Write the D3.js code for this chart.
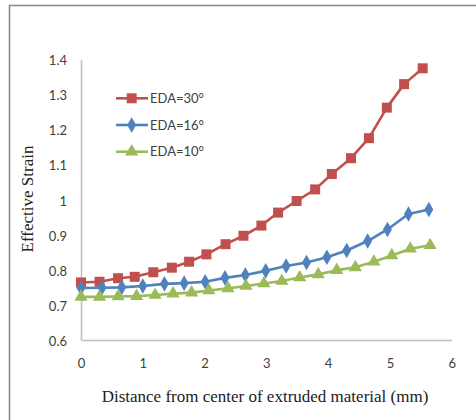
<!DOCTYPE html>
<html>
<head>
<meta charset="utf-8">
<script src="https://cdn.jsdelivr.net/npm/d3@7"></script>
<style>
  html, body { margin: 0; padding: 0; background: #fff; }
  svg { display: block; }
</style>
</head>
<body>
<svg id="chart" width="476" height="420"></svg>
<script>
// Effective strain across the extruded section, one series per die angle (EDA)
const seriesNames = ["EDA=30°", "EDA=16°", "EDA=10°"];
const seriesColors = ["#C0504D", "#4F81BD", "#9BBB59"];
const seriesSymbols = ["square", "diamond", "triangle"];

const xEda30 = [0, 0.30, 0.60, 0.87, 1.17, 1.47, 1.75, 2.03, 2.34, 2.63, 2.92, 3.19, 3.49, 3.79, 4.06, 4.37, 4.66, 4.95, 5.23, 5.53];
const yEda30 = [0.764, 0.766, 0.776, 0.780, 0.793, 0.806, 0.823, 0.844, 0.873, 0.897, 0.926, 0.963, 0.996, 1.029, 1.073, 1.118, 1.175, 1.262, 1.329, 1.374];

const xEda16 = [0, 0.34, 0.66, 1.00, 1.35, 1.67, 2.01, 2.33, 2.66, 2.99, 3.32, 3.65, 3.98, 4.30, 4.64, 4.96, 5.30, 5.63];
const yEda16 = [0.748, 0.749, 0.750, 0.754, 0.760, 0.762, 0.766, 0.777, 0.785, 0.797, 0.811, 0.821, 0.836, 0.855, 0.882, 0.915, 0.959, 0.972];

const xEda10 = [0, 0.30, 0.60, 0.90, 1.20, 1.49, 1.79, 2.07, 2.38, 2.67, 2.96, 3.25, 3.54, 3.84, 4.14, 4.44, 4.74, 5.03, 5.33, 5.65];
const yEda10 = [0.723, 0.723, 0.724, 0.725, 0.728, 0.732, 0.735, 0.741, 0.747, 0.754, 0.761, 0.768, 0.778, 0.787, 0.799, 0.807, 0.823, 0.841, 0.860, 0.870];

const xTicks = [0, 1, 2, 3, 4, 5, 6];
const yTicks = [0.6, 0.7, 0.8, 0.9, 1, 1.1, 1.2, 1.3, 1.4];
const xTitle = "Distance from center of extruded material (mm)";
const yTitle = "Effective Strain";

const series = [
  { name: seriesNames[0], color: seriesColors[0], symbol: seriesSymbols[0], xs: xEda30, ys: yEda30 },
  { name: seriesNames[1], color: seriesColors[1], symbol: seriesSymbols[1], xs: xEda16, ys: yEda16 },
  { name: seriesNames[2], color: seriesColors[2], symbol: seriesSymbols[2], xs: xEda10, ys: yEda10 }
];

const svg = d3.select("#chart");

// outer chart frame
svg.append("rect")
  .attr("x", 9.5).attr("y", 5.5)
  .attr("width", 480).attr("height", 430)
  .attr("fill", "none")
  .attr("stroke", "#8c8c8c")
  .attr("stroke-width", 1.6);

const plot = { left: 81, right: 451.7, top: 59.2, bottom: 340 };

const x = d3.scaleLinear().domain([0, 6]).range([plot.left, plot.right]);
const y = d3.scaleLinear().domain([0.6, 1.4]).range([plot.bottom, plot.top]);

const labelFont = "Lato, 'Open Sans', sans-serif";
const titleFont = "'Liberation Serif', 'DejaVu Serif', serif";

// x axis
const xAxis = svg.append("g")
  .attr("transform", `translate(0,${plot.bottom})`)
  .call(d3.axisBottom(x).tickValues(xTicks).tickSize(0).tickPadding(19).tickFormat(d3.format("d")));
xAxis.select(".domain").attr("stroke", "#bfbfbf").attr("stroke-width", 1.6);
xAxis.selectAll("text")
  .attr("font-family", labelFont).attr("font-size", 13).attr("fill", "#404040");

// y axis
const yAxis = svg.append("g")
  .attr("transform", `translate(${plot.left},0)`)
  .call(d3.axisLeft(y).tickValues(yTicks).tickSize(0).tickPadding(14).tickFormat(d => d3.format("")(+d.toFixed(1))));
yAxis.select(".domain").attr("stroke", "#bfbfbf").attr("stroke-width", 1.6);
yAxis.selectAll("text")
  .attr("font-family", labelFont).attr("font-size", 13).attr("fill", "#404040")
  .attr("dy", "0.42em");

// axis titles
svg.append("text")
  .attr("x", 265).attr("y", 402)
  .attr("text-anchor", "middle")
  .attr("font-family", titleFont).attr("font-size", 17).attr("fill", "#222")
  .text(xTitle);

svg.append("text")
  .attr("transform", "translate(33,199) rotate(-90)")
  .attr("text-anchor", "middle")
  .attr("font-family", titleFont).attr("font-size", 17).attr("fill", "#222")
  .text(yTitle);

const symbolTypes = { square: d3.symbolSquare, diamond: d3.symbolDiamond, triangle: d3.symbolTriangle };
const symbolSizes = { square: 100, diamond: 70, triangle: 75 };

const line = d3.line().x(d => x(d[0])).y(d => y(d[1]));

series.forEach(s => {
  const pts = s.xs.map((v, i) => [v, s.ys[i]]);
  const g = svg.append("g");
  g.append("path")
    .datum(pts)
    .attr("d", line)
    .attr("fill", "none")
    .attr("stroke", s.color)
    .attr("stroke-width", 2.6)
    .attr("stroke-linejoin", "round");
  g.selectAll("path.mk")
    .data(pts)
    .join("path")
    .attr("class", "mk")
    .attr("transform", d => `translate(${x(d[0])},${y(d[1])})`)
    .attr("d", d3.symbol().type(symbolTypes[s.symbol]).size(symbolSizes[s.symbol]))
    .attr("fill", s.color);
});

// legend
const legend = svg.append("g");
series.forEach((s, i) => {
  const ly = 98.3 + i * 26.7;
  legend.append("line")
    .attr("x1", 116).attr("x2", 148).attr("y1", ly).attr("y2", ly)
    .attr("stroke", s.color).attr("stroke-width", 2.6);
  legend.append("path")
    .attr("transform", `translate(131.7,${ly})`)
    .attr("d", d3.symbol().type(symbolTypes[s.symbol]).size(symbolSizes[s.symbol]))
    .attr("fill", s.color);
  legend.append("text")
    .attr("x", 150).attr("y", ly).attr("dy", "0.36em")
    .attr("font-family", labelFont).attr("font-size", 13).attr("fill", "#404040")
    .text(s.name);
});
</script>
</body>
</html>
